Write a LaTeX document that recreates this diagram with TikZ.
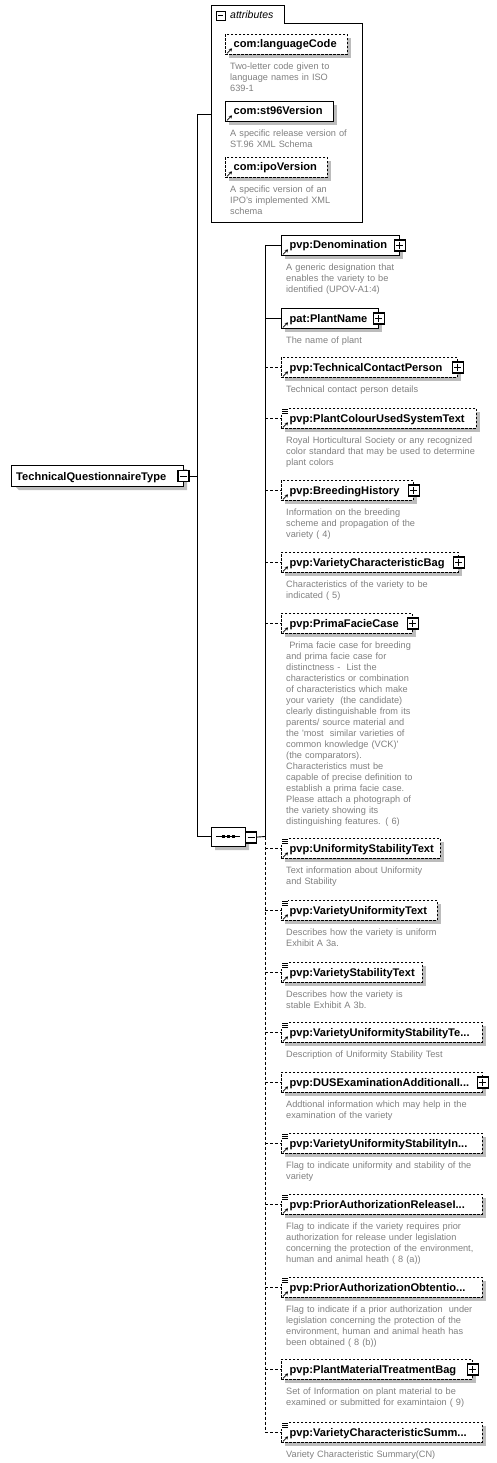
\documentclass[tikz,border=0pt]{standalone}
\usepackage{fontspec}
\setmainfont{Liberation Sans}
\usetikzlibrary{shapes.misc,arrows.meta}
\definecolor{shad}{RGB}{188,188,188}
\definecolor{desccol}{RGB}{128,128,128}
\tikzset{
 elb/.style={draw, line width=0.9pt, fill=white, minimum height=20pt, inner sep=0pt, rectangle},
 sol/.style={solid},
 dsh/.style={dash pattern=on 2.5pt off 1.5pt},
 lbl/.style={font=\fontsize{11.1}{13}\selectfont\bfseries, inner sep=0pt},
 desc/.style={font=\fontsize{9.2}{11}\selectfont, text=desccol, inner sep=0pt, align=left, text width=220pt},
 conn/.style={line width=0.9pt},
 cdash/.style={dash pattern=on 3pt off 2pt},
 refarr/.style={line width=0.8pt, -{Stealth[length=3pt,width=3.5pt]}},
 pmb/.style={draw, line width=1.2pt, fill=white, minimum size=11pt, inner sep=0pt, rectangle},
 rootst/.style={draw, line width=0.9pt, fill=white, chamfered rectangle, chamfered rectangle corners={north west,south west},
   chamfered rectangle xsep=4pt, chamfered rectangle ysep=4pt, minimum width=172pt, minimum height=21pt, inner sep=0pt},
 seqst/.style={draw, line width=0.9pt, fill=white, chamfered rectangle,
   chamfered rectangle xsep=5pt, chamfered rectangle ysep=5pt, minimum width=34pt, minimum height=19pt, inner sep=0pt},
 shadowst/.style={draw=none, fill=shad},
}
\newcommand\EL[7]{%
  \fill[shad] (#2+4,#3+4) rectangle (#4+4,#3+24);
  \node[elb,#5,minimum width={#4-#2},anchor=north west] (#1) at (#2,#3) {};
  \draw[refarr] ([shift={(2,-1.5)}]#1.south west) -- ++(5,-5);
  \node[lbl,anchor=base west] (#1-l) at (#2+8.5,#3+14) {#6};
  \node[desc,anchor=base west] (#1-d) at (#2+5,#3+35.5) {#7};
}
\newcommand\PL[1]{%
  \node[pmb] (#1-p) at (#1.east) {};
  \draw[line width=1pt] ([xshift=-3.5pt]#1-p.center) -- ([xshift=3.5pt]#1-p.center)
    ([yshift=-3.5pt]#1-p.center) -- ([yshift=3.5pt]#1-p.center);
}
\newcommand\MI[1]{%
  \draw[line width=1pt] ([xshift=-3.5pt]#1.center) -- ([xshift=3.5pt]#1.center);
}
\newcommand\SIMPLE[1]{%
  \fill[white] ([shift={(-1,-1)}]#1.north west) rectangle ++(8,8);
  \draw[line width=0.8pt] ([shift={(1,1)}]#1.north west) -- ++(6,0)
    ([shift={(1,3.3)}]#1.north west) -- ++(6,0)
    ([shift={(1,5.6)}]#1.north west) -- ++(6,0);
}
\newcommand\CN[2]{\draw[conn,#2] (#1.west -| v2t) -- (#1.west);}
\begin{document}
\begin{tikzpicture}[x=1pt,y=-1pt]
\useasboundingbox (0,0) rectangle (496,1463);
% coordinates of the trunk lines
\coordinate (v1t) at (197,114);
\coordinate (v1b) at (197,836.5);
\coordinate (attrW) at (211,114);
\coordinate (v2t) at (265,245);
\coordinate (v2m) at (265,836.5);
\coordinate (v2b) at (265,1432);
% trunk connectors
\draw[conn] (attrW) -- (v1t) -- (v1b) -- (228,836.5);
\draw[conn] (v2t) -- (v2m);
\draw[conn,cdash] (v2m) -- (v2b);
\draw[conn] (251,837.5) -- (v2m);
% root
\fill[shad] (19,469) -- (187,469) -- (187,490) -- (19,490) -- (15,486) -- (15,473) -- cycle;
\node[rootst] (root) at (97,475.5) {};
\node[lbl,anchor=base west] (root-l) at (16,480) {TechnicalQuestionnaireType};
\node[pmb] (root-m) at (183.5,476) {};
\MI{root-m}
\draw[conn] (root-m.east) -- (root-m.east -| v1t);
% attributes group
\draw[line width=0.9pt] (211,5) -- (284,5) -- (284,23) -- (362,23) -- (362,222) -- (211,222) -- cycle;
\node[pmb, line width=0.9pt, minimum size=9pt] (attr-m) at (220.5,15.5) {};
\draw[line width=0.9pt] ([xshift=-2.5pt]attr-m.center) -- ([xshift=2.5pt]attr-m.center);
\node[font=\fontsize{10.5}{12}\selectfont\itshape, inner sep=0pt, anchor=base west] (attr-l) at (230,19) {attributes};
\EL{lang}{225}{34}{347}{dsh}{com:languageCode}{Two-letter code given to\\language names in ISO\\639-1}
\EL{st96}{225}{101}{333}{sol}{com:st96Version}{A specific release version of\\ST.96 XML Schema}
\EL{ipo}{225}{157}{327}{dsh}{com:ipoVersion}{A specific version of an\\IPO's implemented XML\\schema}
% sequence
\node[seqst,shadowst] (seq-s) at (232,840.5) {};
\node[seqst] (seq) at (228,836.5) {};
\draw[line width=0.9pt] (216,836.5) -- (240,836.5);
\foreach \dx in {223,228,233} \fill (\dx-1.5,835) rectangle ++(3,3);
\node[pmb] (seq-m) at (251,837.5) {};
\MI{seq-m}
% children
\EL{denom}{281}{235}{399}{sol}{pvp:Denomination}{A generic designation that\\enables the variety to be\\identified (UPOV-A1:4)}
\PL{denom}\CN{denom}{solid}
\EL{plant}{281}{308}{378}{sol}{pat:PlantName}{The name of plant}
\PL{plant}\CN{plant}{solid}
\EL{tcp}{281}{357}{457}{dsh}{pvp:TechnicalContactPerson}{Technical contact person details}
\PL{tcp}\CN{tcp}{cdash}
\EL{pcust}{281}{408}{476}{dsh}{pvp:PlantColourUsedSystemText}{Royal Horticultural Society or any recognized\\color standard that may be used to determine\\plant colors}
\SIMPLE{pcust}\CN{pcust}{cdash}
\EL{breed}{281}{480}{413}{dsh}{pvp:BreedingHistory}{Information on the breeding\\scheme and propagation of the\\variety ( 4)}
\PL{breed}\CN{breed}{cdash}
\EL{vcb}{281}{552}{458}{dsh}{pvp:VarietyCharacteristicBag}{Characteristics of the variety to be\\indicated ( 5)}
\PL{vcb}\CN{vcb}{cdash}
\EL{pfc}{281}{613}{412}{dsh}{pvp:PrimaFacieCase}{\ Prima facie case for breeding\\and prima facie case for\\distinctness -~ List the\\characteristics or combination\\of characteristics which make\\your variety~ (the candidate)\\clearly distinguishable from its\\parents/ source material and\\the \textquotesingle most~ similar varieties of\\common knowledge (VCK)\textquotesingle\\(the comparators).\\Characteristics must be\\capable of precise definition to\\establish a prima facie case.\\Please attach a photograph of\\the variety showing its\\distinguishing features. ( 6)}
\PL{pfc}\CN{pfc}{cdash}
\EL{ust}{281}{838}{440}{dsh}{pvp:UniformityStabilityText}{Text information about Uniformity\\and Stability}
\SIMPLE{ust}\CN{ust}{cdash}
\EL{vut}{281}{900}{437}{dsh}{pvp:VarietyUniformityText}{Describes how the variety is uniform\\Exhibit A 3a.}
\SIMPLE{vut}\CN{vut}{cdash}
\EL{vst}{281}{962}{422}{dsh}{pvp:VarietyStabilityText}{Describes how the variety is\\stable Exhibit A 3b.}
\SIMPLE{vst}\CN{vst}{cdash}
\EL{vustt}{281}{1022}{482}{dsh}{pvp:VarietyUniformityStabilityTe...}{Description of Uniformity Stability Test}
\SIMPLE{vustt}\CN{vustt}{cdash}
\EL{dus}{281}{1072}{482}{dsh}{pvp:DUSExaminationAdditionalI...}{Addtional information which may help in the\\examination of the variety}
\PL{dus}\CN{dus}{cdash}
\EL{vusi}{281}{1133}{482}{dsh}{pvp:VarietyUniformityStabilityIn...}{Flag to indicate uniformity and stability of the\\variety}
\SIMPLE{vusi}\CN{vusi}{cdash}
\EL{parel}{281}{1194}{482}{dsh}{pvp:PriorAuthorizationReleaseI...}{Flag to indicate if the variety requires prior\\authorization for release under legislation\\concerning the protection of the environment,\\human and animal heath ( 8 (a))}
\SIMPLE{parel}\CN{parel}{cdash}
\EL{paobt}{281}{1277}{482}{dsh}{pvp:PriorAuthorizationObtentio...}{Flag to indicate if a prior authorization~ under\\legislation concerning the protection of the\\environment, human and animal heath has\\been obtained ( 8 (b))}
\SIMPLE{paobt}\CN{paobt}{cdash}
\EL{pmtb}{281}{1359}{472}{dsh}{pvp:PlantMaterialTreatmentBag}{Set of Information on plant material to be\\examined or submitted for examintaion ( 9)}
\PL{pmtb}\CN{pmtb}{cdash}
\EL{vcs}{281}{1422}{482}{dsh}{pvp:VarietyCharacteristicSumm...}{Variety Characteristic Summary(CN)}
\SIMPLE{vcs}\CN{vcs}{cdash}
\end{tikzpicture}
\end{document}
